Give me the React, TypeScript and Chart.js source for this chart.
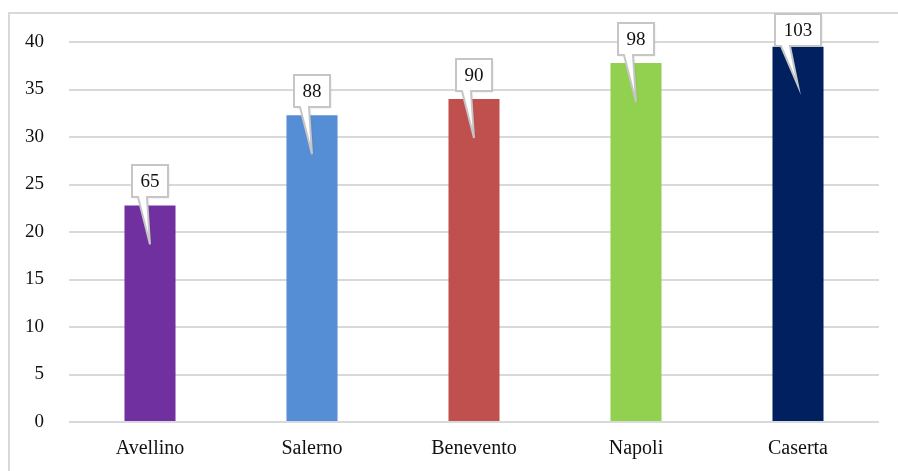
import React, { useEffect, useRef } from "react";
import { Chart, registerables } from "chart.js";

Chart.register(...registerables);

const categories = ["Avellino", "Salerno", "Benevento", "Napoli", "Caserta"];
const values = [22.8, 32.3, 34.0, 37.8, 39.5];
const calloutLabels = ["65", "88", "90", "98", "103"];
const barColors = ["#7030A0", "#558ED5", "#C0504D", "#92D050", "#002060"];
const yTicks = [0, 5, 10, 15, 20, 25, 30, 35, 40];

const FONT = "'Liberation Serif', 'Times New Roman', serif";

const framePlugin = {
  id: "frame",
  beforeDraw(chart: any) {
    const ctx = chart.ctx;
    ctx.save();
    ctx.strokeStyle = "#d9d9d9";
    ctx.lineWidth = 2;
    ctx.strokeRect(9, 13, 1000, 1000);
    ctx.restore();
  },
};

const calloutPlugin = {
  id: "callouts",
  afterDatasetsDraw(chart: any) {
    const ctx = chart.ctx;
    const meta = chart.getDatasetMeta(0);
    ctx.save();
    ctx.font = `19px ${FONT}`;
    meta.data.forEach((bar: any, i: number) => {
      const text = calloutLabels[i];
      const tw = ctx.measureText(text).width;
      const w = Math.round(tw + 17);
      const h = 32;
      const cx = bar.x;
      const top = bar.y;
      const L = Math.round(cx - w / 2);
      const T = Math.max(14, Math.round(top - 8 - h));
      const B = T + h;
      const tipX = cx;
      const tipY = top + 39;
      ctx.beginPath();
      ctx.moveTo(L, T);
      ctx.lineTo(L + w, T);
      ctx.lineTo(L + w, B);
      ctx.lineTo(L + 15, B);
      ctx.lineTo(tipX, tipY);
      ctx.lineTo(L + 6, B);
      ctx.lineTo(L, B);
      ctx.closePath();
      ctx.shadowColor = "rgba(0,0,0,0.15)";
      ctx.shadowBlur = 2;
      ctx.shadowOffsetX = 1;
      ctx.shadowOffsetY = 1;
      ctx.fillStyle = "#ffffff";
      ctx.fill();
      ctx.shadowColor = "transparent";
      ctx.lineWidth = 2;
      ctx.strokeStyle = "#c6c6c6";
      ctx.stroke();
      ctx.fillStyle = "#111111";
      ctx.textAlign = "center";
      ctx.textBaseline = "middle";
      ctx.fillText(text, L + w / 2, T + h / 2 + 1);
    });
    ctx.restore();
  },
};

export default function App() {
  const ref = useRef<HTMLCanvasElement>(null);
  useEffect(() => {
    if (!ref.current) return;
    const chart = new Chart(ref.current, {
      type: "bar",
      data: {
        labels: categories,
        datasets: [
          {
            data: values,
            backgroundColor: barColors,
            borderWidth: 0,
            categoryPercentage: 1,
            barPercentage: 0.315,
          },
        ],
      },
      options: {
        animation: false,
        responsive: false,
        maintainAspectRatio: false,
        layout: { padding: { top: 42, right: 19, left: 0, bottom: 0 } },
        plugins: {
          legend: { display: false },
          tooltip: { enabled: false },
        },
        scales: {
          x: {
            grid: { display: false, drawTicks: false },
            border: { display: false },
            ticks: {
              color: "#111111",
              font: { family: FONT, size: 20 },
              padding: 15,
              maxRotation: 0,
            },
            afterFit(scale: any) {
              scale.height = 49;
            },
          },
          y: {
            min: 0,
            max: 40,
            afterBuildTicks(scale: any) {
              scale.ticks = yTicks.map((v) => ({ value: v }));
            },
            grid: { color: "#d9d9d9", lineWidth: 2, drawTicks: false },
            border: { display: false },
            ticks: {
              color: "#111111",
              font: { family: FONT, size: 19 },
              padding: 25,
            },
            afterFit(scale: any) {
              scale.width = 69;
            },
          },
        },
      },
      plugins: [framePlugin, calloutPlugin],
    });
    return () => chart.destroy();
  }, []);
  return (
    <div style={{ position: "absolute", left: 0, top: 0, width: 898, height: 471, background: "#fff" }}>
      <canvas ref={ref} width={898} height={471} style={{ display: "block" }} />
    </div>
  );
}
